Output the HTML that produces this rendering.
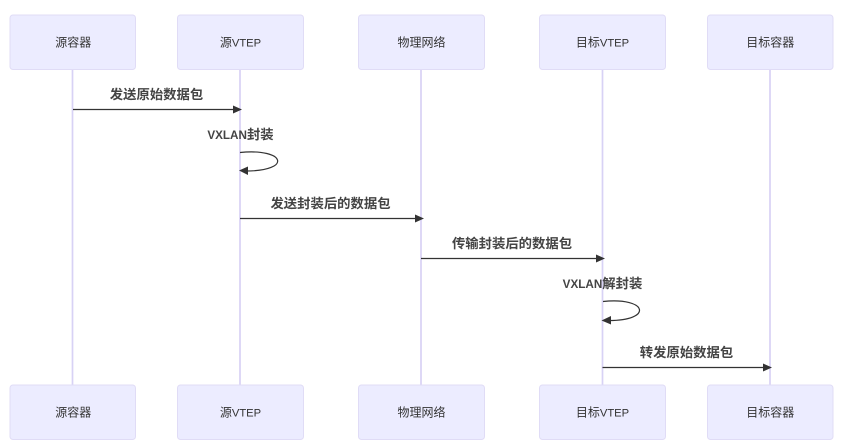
<!DOCTYPE html>
<html>
<head>
<meta charset="utf-8">
<style>
html,body{margin:0;padding:0;background:#fff;width:847px;height:448px;overflow:hidden}
svg{display:block}
text{font-family:"Liberation Sans","Noto Sans CJK SC",sans-serif;text-anchor:middle}
.a{font-size:12px;fill:#333}
.a tspan{font-size:11.2px}
.m{font-size:13.35px;font-weight:bold;fill:#444}
.m tspan{font-size:11.7px}
.b{fill:#ececff;stroke:#e0dcf6;stroke-width:1}
.l{stroke:#d8d2f5;stroke-width:1.7;fill:none}
.c{stroke:#333;stroke-width:1.2;fill:none}
.h{fill:#333}
</style>
</head>
<body>
<svg width="847" height="448" viewBox="0 0 847 448" xmlns="http://www.w3.org/2000/svg">
<path class="l" d="M72.5 69V385M240 69V385M421 69V385M602.5 69V385M770 69V385"/>
<rect class="b" x="10" y="15" width="125.500" height="54.500" rx="3"/>
<rect class="b" x="177.500" y="15" width="126" height="54.500" rx="3"/>
<rect class="b" x="358.500" y="15" width="126" height="54.500" rx="3"/>
<rect class="b" x="539.500" y="15" width="126" height="54.500" rx="3"/>
<rect class="b" x="707.500" y="15" width="125.500" height="54.500" rx="3"/>
<rect class="b" x="10" y="385" width="125.500" height="54.500" rx="3"/>
<rect class="b" x="177.500" y="385" width="126" height="54.500" rx="3"/>
<rect class="b" x="358.500" y="385" width="126" height="54.500" rx="3"/>
<rect class="b" x="539.500" y="385" width="126" height="54.500" rx="3"/>
<rect class="b" x="707.500" y="385" width="125.500" height="54.500" rx="3"/>
<text class="a" x="73.300" y="46.500">源容器</text>
<text class="a" x="240.500" y="46.500">源<tspan>VTEP</tspan></text>
<text class="a" x="421.500" y="46.500">物理网络</text>
<text class="a" x="602.500" y="46.500">目标<tspan>VTEP</tspan></text>
<text class="a" x="770.300" y="46.500">目标容器</text>
<text class="a" x="73.300" y="416.500">源容器</text>
<text class="a" x="240.500" y="416.500">源<tspan>VTEP</tspan></text>
<text class="a" x="421.500" y="416.500">物理网络</text>
<text class="a" x="602.500" y="416.500">目标<tspan>VTEP</tspan></text>
<text class="a" x="770.300" y="416.500">目标容器</text>
<text class="m" x="156.500" y="99">发送原始数据包</text>
<text class="m" x="240.500" y="139"><tspan>VXLAN</tspan>封装</text>
<text class="m" x="330.500" y="208">发送封装后的数据包</text>
<text class="m" x="512" y="248">传输封装后的数据包</text>
<text class="m" x="602.500" y="288"><tspan>VXLAN</tspan>解封装</text>
<text class="m" x="686.500" y="357">转发原始数据包</text>
<path class="c" d="M73 109.500H234M240 218.500H417M421 258.500H598M602.500 367.500H766"/>
<path class="h" d="M233 105.500L242 109.500L233 113.500Z"/>
<path class="h" d="M415 214.500L424 218.500L415 222.500Z"/>
<path class="h" d="M596 254.500L605 258.500L596 262.500Z"/>
<path class="h" d="M763 363.500L772 367.500L763 371.500Z"/>
<path class="c" d="M240 152.500C286 148 292 171 246 171"/>
<path class="h" d="M248 166.500L239 170.500L248 175Z"/>
<path class="c" d="M603 301.500C648 297 653 320.500 609 320.500"/>
<path class="h" d="M611 316L601.500 320.500L611 324.500Z"/>
</svg>
</body>
</html>
